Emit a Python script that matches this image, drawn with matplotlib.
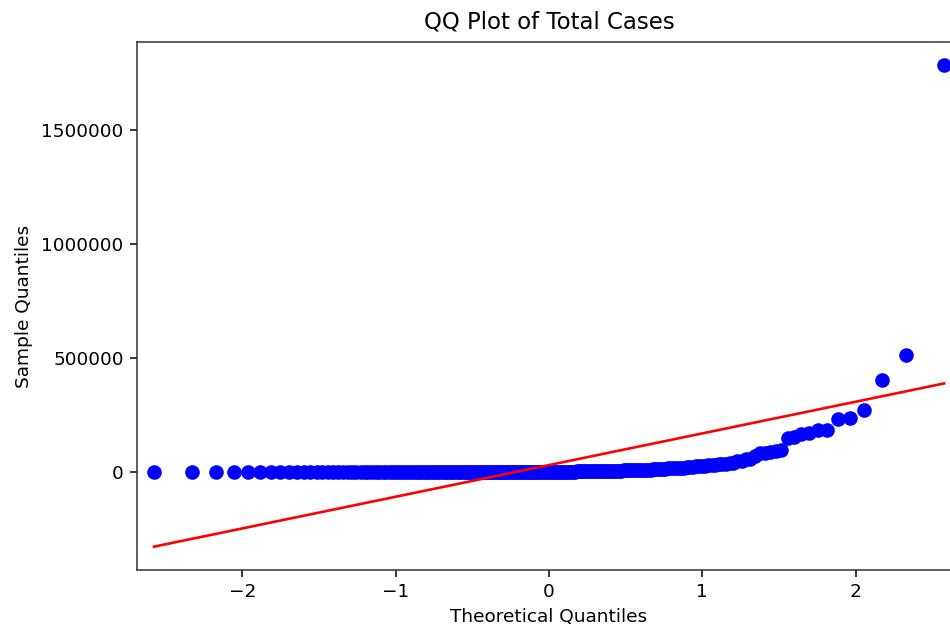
import matplotlib
matplotlib.use("Agg")
import matplotlib.pyplot as plt
import numpy as np
from statistics import NormalDist

# sorted total cases (descending)
total_cases = [
    1785000, 513000, 404000, 272000, 238000, 232000, 185000, 182000, 171000, 165000,
    155000, 151000, 97000, 91000, 87000, 85000, 83000, 69000, 58000, 55000,
    47000, 46000, 41000, 39000, 37000, 35000, 34000, 32000, 31000, 30000,
    28000, 27000, 26000, 25000, 23000, 23000, 22000, 19000, 17500, 17000,
    17000, 16800, 16500, 16000, 15000, 13000, 12000, 11600, 11500, 11200,
    10800, 10300, 10000, 9300, 9100, 8900, 8400, 8100, 7800, 7700,
    7600, 7200, 6800, 6400, 5900, 5200, 5000, 4800, 4700, 4000,
    3900, 3800, 3700, 3500, 3500, 3100, 3000, 3000, 2900, 2800,
    2600, 2500, 2500, 2400, 2200, 2200, 2000, 2000, 1900, 1800,
    1800, 1800, 1700, 1700, 1700, 1600, 1500, 1500, 1500, 1500,
    1400, 1300, 1200, 1100, 1100, 1000, 1000, 950, 900, 870,
    850, 800, 780, 760, 730, 700, 680, 650, 620, 600,
    580, 560, 540, 520, 500, 480, 460, 440, 420, 400,
    390, 380, 360, 340, 330, 320, 300, 290, 280, 270,
    260, 250, 240, 230, 220, 210, 200, 190, 180, 170,
    160, 150, 140, 135, 130, 125, 120, 115, 110, 105,
    100, 95, 90, 85, 80, 75, 70, 65, 60, 55,
    50, 48, 45, 42, 40, 38, 35, 32, 30, 28,
    26, 24, 22, 20, 18, 16, 14, 13, 12, 11,
    10, 9, 8, 7, 6, 5, 4, 3, 2, 1,
]
y_ticks = [0, 500000, 1000000, 1500000]
x_ticks = [-2, -1, 0, 1, 2]

sample = np.sort(np.array(total_cases, dtype=float))
n = len(sample)
# theoretical normal quantiles at plotting positions i/(n+1)
nd = NormalDist()
theoretical = np.array([nd.inv_cdf(i / (n + 1)) for i in range(1, n + 1)])

# standardized reference line (mean + std * x)
slope, intercept = np.std(sample), np.mean(sample)

fig = plt.figure(figsize=(9.5, 6.31), dpi=100)
ax = fig.add_axes([0.1442, 0.0967, 0.8674, 0.8368])

ax.plot(theoretical, sample, "o", color="blue", markersize=10.5, markeredgewidth=0)
ax.plot(theoretical, slope * theoretical + intercept, "-", color="red", lw=1.9)

ax.set_xlim(-2.688, 2.688)
ax.set_ylim(-429800, 1886000)
ax.set_xticks(x_ticks)
ax.set_yticks(y_ticks)
ax.ticklabel_format(axis="y", style="plain", useOffset=False)
ax.tick_params(labelsize=13.3, length=4.8, width=1.1, pad=4.8)
for s in ax.spines.values():
    s.set_linewidth(1.1)
    s.set_color("#333333")

ax.set_xlabel("Theoretical Quantiles", fontsize=13.3, labelpad=5)
ax.set_ylabel("Sample Quantiles", fontsize=13.3, labelpad=6)
ax.set_title("QQ Plot of Total Cases", fontsize=16.5, pad=10)

fig.savefig("out.png", dpi=100)
